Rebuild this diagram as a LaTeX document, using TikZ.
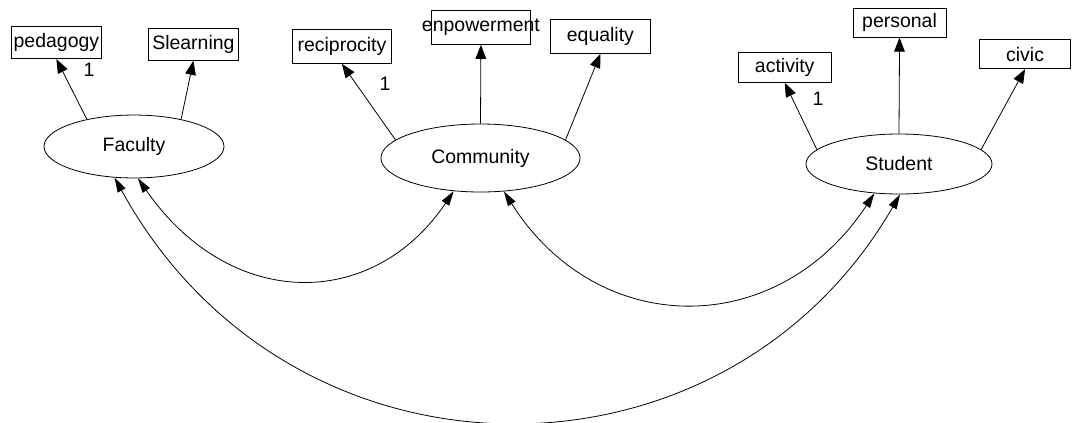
\documentclass[tikz,border=0pt]{standalone}
\usepackage{fontspec}
\setmainfont{Liberation Sans}
\usetikzlibrary{arrows.meta,shapes.geometric}
\begin{document}
\begin{tikzpicture}[x=0.75pt,y=-0.75pt,
  txt/.style={font=\fontsize{14.6pt}{17pt}\selectfont, inner sep=0pt},
  obs/.style={txt, draw, line width=0.6pt, rectangle, anchor=north west},
  lat/.style={txt, draw, line width=0.6pt, ellipse},
  load/.style={line width=0.6pt, -{Triangle[length=10.5pt,width=8pt]}},
  cov/.style={line width=0.6pt, {Triangle[length=11pt,width=6.5pt]}-{Triangle[length=11pt,width=6.5pt]}}
]
\useasboundingbox (0,0) rectangle (1072,422);
% observed variables
\node[obs, minimum width=67.5pt, minimum height=24.2pt] (ped) at (11,26) {pedagogy};
\node[obs, minimum width=67.5pt, minimum height=24pt] (sle) at (148,28) {Slearning};
\node[obs, minimum width=74.3pt, minimum height=25.5pt] (rec) at (292,29) {reciprocity};
\node[obs, minimum width=74.3pt, minimum height=25.5pt] (enp) at (431,10) {\makebox[74.3pt]{enpowerment}};
\node[obs, minimum width=75pt, minimum height=25.5pt] (equ) at (550,19) {equality};
\node[obs, minimum width=69.5pt, minimum height=22.5pt] (act) at (738,52) {activity};
\node[obs, minimum width=70pt, minimum height=22pt] (per) at (852.5,7.5) {personal};
\node[obs, minimum width=68.5pt, minimum height=22pt] (civ) at (979,39) {civic};
% latent variables
\node[lat, minimum width=135pt, minimum height=47.2pt] (fac) at (134,146.5) {Faculty};
\node[lat, minimum width=149.3pt, minimum height=51pt] (com) at (480.5,158) {Community};
\node[lat, minimum width=139.5pt, minimum height=45pt] (stu) at (899,164) {Student};
% loadings
\draw[load] (fac.150) -- (ped.south);
\draw[load] (fac.30) -- (sle.south);
\draw[load] (com.168) -- (rec.south);
\draw[load] (com.north) -- (enp.south);
\draw[load] (com.12) -- (equ.south);
\draw[load] (stu.170) -- (act.south);
\draw[load] (stu.north) -- (per.south);
\draw[load] (stu.10) -- (civ.south);
% fixed loadings
\node[txt] (one1) at (89,70) {1};
\node[txt] (one2) at (385,84) {1};
\node[txt] (one3) at (818,99) {1};
% covariances
\draw[cov] (fac.-83) .. controls (230,311) and (373,311) .. (com.-129);
\draw[cov] (com.-55) .. controls (598,340) and (778,340) .. (stu.-130);
\draw[cov] (fac.-122) .. controls (291,499) and (724,499) .. (stu.-88);
\end{tikzpicture}
\end{document}
